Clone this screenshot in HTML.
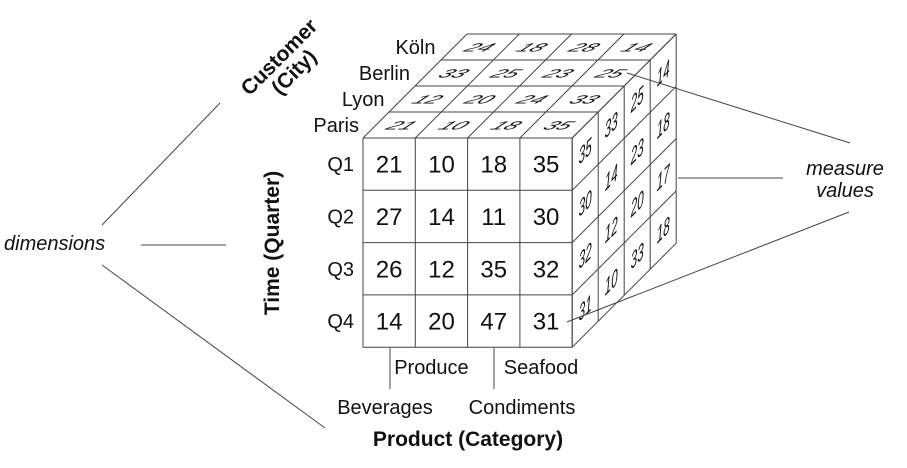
<!DOCTYPE html>
<html><head><meta charset="utf-8"><style>
html,body{margin:0;padding:0;background:#fff;width:907px;height:468px;overflow:hidden}
svg{display:block;font-family:"Liberation Sans",sans-serif}
</style></head><body>
<svg id="cube" width="907" height="468" viewBox="0 0 907 468" xmlns="http://www.w3.org/2000/svg"></svg>
<script>
const products = ["Beverages","Produce","Condiments","Seafood"];
const quarters = ["Q1","Q2","Q3","Q4"];
const cities = ["Paris","Lyon","Berlin","Köln"];
const frontValues = [[21,10,18,35],[27,14,11,30],[26,12,35,32],[14,20,47,31]];
const topValues = [[21,10,18,35],[12,20,24,33],[33,25,23,25],[24,18,28,14]];
const sideValues = [[35,30,32,31],[33,14,12,10],[25,23,20,33],[14,18,17,18]];

const svg = document.getElementById('cube');
const NS = 'http://www.w3.org/2000/svg';
const X0 = 363, Y0 = 138, C = 52.3, D = 26;
const productLabelX = [385, null, 522, null];
function mk(tag, attrs, parent){const e=document.createElementNS(NS,tag);for(const k in attrs)e.setAttribute(k,attrs[k]);(parent||svg).appendChild(e);return e;}
function fx(c){return X0 + c*C;}
function fy(r){return Y0 + r*C;}

const g = mk('g',{stroke:'#444','stroke-width':'1',fill:'none'});


const nC = products.length, nR = quarters.length, nD = cities.length;
for(let c=0;c<=nC;c++) mk('line',{x1:fx(c),y1:fy(0),x2:fx(c),y2:fy(nR)},g);
for(let r=0;r<=nR;r++) mk('line',{x1:fx(0),y1:fy(r),x2:fx(nC),y2:fy(r)},g);
for(let c=0;c<=nC;c++) mk('line',{x1:fx(c),y1:fy(0),x2:fx(c)+D*nD,y2:fy(0)-D*nD},g);
for(let d=0;d<=nD;d++) mk('line',{x1:fx(0)+D*d,y1:fy(0)-D*d,x2:fx(nC)+D*d,y2:fy(0)-D*d},g);
for(let d=0;d<=nD;d++) mk('line',{x1:fx(nC)+D*d,y1:fy(0)-D*d,x2:fx(nC)+D*d,y2:fy(nR)-D*d},g);
for(let r=0;r<=nR;r++) mk('line',{x1:fx(nC),y1:fy(r),x2:fx(nC)+D*nD,y2:fy(r)-D*nD},g);

frontValues.forEach((row,r)=>row.forEach((v,c)=>{
  const t=mk('text',{x:fx(c+0.5),y:fy(r+0.5)+8.5,'text-anchor':'middle','font-size':'24',fill:'#111'});
  
  
  t.textContent=v;
}));
topValues.forEach((row,d)=>row.forEach((v,c)=>{
  const cx=fx(c+0.5)+D*(d+0.5), cy=fy(0)-D*(d+0.5);
  const t=mk('text',{'text-anchor':'middle','font-size':'19','font-style':'italic',fill:'#111',transform:`translate(${cx},${cy}) matrix(1.2,0,-0.75,0.62,0,0)`,x:0,y:7});
  
  
  t.textContent=v;
}));
sideValues.forEach((col,d)=>col.forEach((v,r)=>{
  const cx=fx(nC)+D*(d+0.5), cy=fy(r+0.5)-D*(d+0.5);
  const t=mk('text',{'text-anchor':'middle','font-size':'21','font-style':'italic',fill:'#111',transform:`translate(${cx},${cy}) matrix(0.55,-0.55,0,1.1,0,0)`,x:0,y:7});
  
  
  t.textContent=v;
}));
quarters.forEach((q,r)=>{
  const t=mk('text',{x:fx(0)-9,y:fy(r+0.5)+7,'text-anchor':'end','font-size':'20',fill:'#111'});
  
  
  t.textContent=q;
});
cities.forEach((cName,d)=>{
  const t=mk('text',{x:359+25.5*d,y:fy(0)-D*(d+0.5)+7,'text-anchor':'end','font-size':'20',fill:'#111'});
  
  
  t.textContent=cName;
});
products.forEach((p,c)=>{
  const lower = c%2===0;
  const t=mk('text',{x:lower?productLabelX[c]:fx(c+0.5)+(c===1?-10:-5),y:lower?414:374,'text-anchor':'middle','font-size':'20',fill:'#111'});
  
  
  t.textContent=p;
});

function add(tag,attrs,txt,name){const e=document.createElementNS(NS,tag);for(const k in attrs)e.setAttribute(k,attrs[k]);if(txt)e.textContent=txt;svg.appendChild(e);return e;}
add('line',{x1:390,y1:348,x2:390,y2:389,stroke:'#444'},null,'beverages-tick');
add('line',{x1:494,y1:348,x2:494,y2:389,stroke:'#444'},null,'condiments-tick');
add('text',{x:468,y:446,'text-anchor':'middle','font-size':'21','font-weight':'bold',fill:'#111'},'Product (Category)','product-axis-title');
add('text',{x:0,y:0,'text-anchor':'middle','font-size':'21','font-weight':'bold',fill:'#111',transform:'translate(279,243) rotate(-90)'},'Time (Quarter)','time-axis-title');
add('text',{x:0,y:0,'text-anchor':'middle','font-size':'21','font-weight':'bold',fill:'#111',transform:'translate(284,62) rotate(-45)'},'Customer','customer-axis-title');
add('text',{x:0,y:21,'text-anchor':'middle','font-size':'21','font-weight':'bold',fill:'#111',transform:'translate(284,62) rotate(-45)'},'(City)','customer-axis-subtitle');
add('text',{x:4,y:250,'font-size':'20','font-style':'italic',fill:'#111'},'dimensions','dimensions-label');
add('line',{x1:102,y1:225,x2:220,y2:103,stroke:'#444'},null,'dimension-pointer-customer');
add('line',{x1:141,y1:245,x2:226,y2:245,stroke:'#444'},null,'dimension-pointer-time');
add('line',{x1:102,y1:265,x2:325,y2:428,stroke:'#444'},null,'dimension-pointer-product');
add('text',{x:845,y:175,'text-anchor':'middle','font-size':'20','font-style':'italic',fill:'#111'},'measure','measure-label-line1');
add('text',{x:845,y:197,'text-anchor':'middle','font-size':'20','font-style':'italic',fill:'#111'},'values','measure-label-line2');
add('line',{x1:627,y1:73,x2:850,y2:143,stroke:'#444'},null,'measure-pointer-top');
add('line',{x1:678,y1:178,x2:783,y2:178,stroke:'#444'},null,'measure-pointer-middle');
add('line',{x1:567,y1:322,x2:849,y2:212,stroke:'#444'},null,'measure-pointer-bottom');
</script>
</body></html>
